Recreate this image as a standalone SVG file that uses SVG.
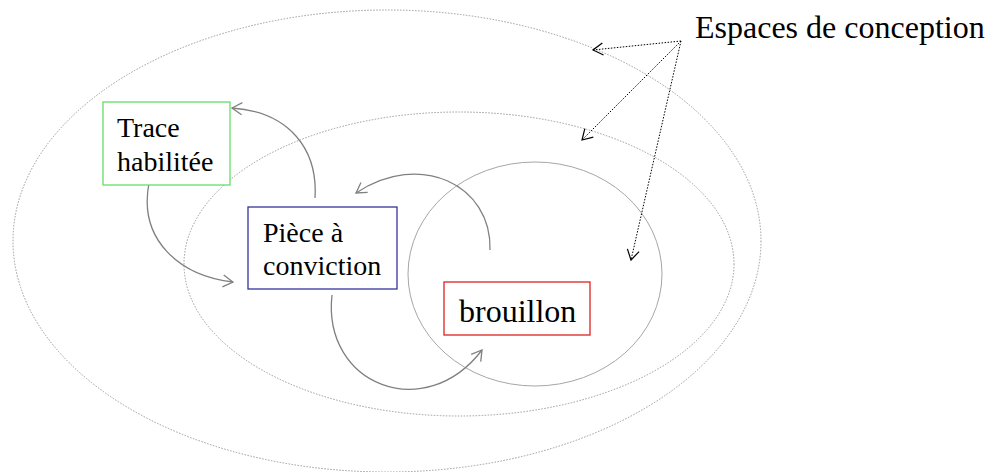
<svg xmlns="http://www.w3.org/2000/svg" width="988" height="472" viewBox="0 0 988 472">
<style>
.sp{fill:none;stroke:#9a9a9a;stroke-width:1;stroke-dasharray:1.5,1.5}
.in{fill:none;stroke:#a6a6a6;stroke-width:1}
.box{fill:#fff;stroke-width:1.3}
.t{font-family:"Liberation Serif","Times New Roman",serif;fill:#000}
.cur{fill:none;stroke:#808080;stroke-width:1.3}
.dot{fill:none;stroke:#000;stroke-width:1;stroke-dasharray:1.5,1.5}
</style>
<defs>
<marker id="ag" markerUnits="userSpaceOnUse" markerWidth="20" markerHeight="20" refX="0" refY="0" viewBox="-12 -10 14 20" orient="auto"><path d="M-10,-6 L0,0 L-10,6" fill="none" stroke="#808080" stroke-width="1.3"/></marker>
<marker id="ab" markerUnits="userSpaceOnUse" markerWidth="20" markerHeight="20" refX="0" refY="0" viewBox="-12 -10 14 20" orient="auto"><path d="M-10,-6 L0,0 L-10,6" fill="none" stroke="#000" stroke-width="1.2"/></marker>
</defs>
<g id="spaces">
<ellipse class="sp" cx="387" cy="241" rx="374" ry="231"/>
<ellipse class="sp" cx="459" cy="264" rx="275" ry="152"/>
<ellipse class="in" cx="535" cy="274" rx="127" ry="112"/>
</g>
<g id="connectors">
<path class="cur" d="M315,198 C318,150 290,112 232,108" marker-end="url(#ag)"/>
<path class="cur" d="M149,183 C138,240 180,276 233,282" marker-end="url(#ag)"/>
<path class="cur" d="M490,250 C492,185 420,150 356,193" marker-end="url(#ag)"/>
<path class="cur" d="M332,295 C322,385 425,425 482,350" marker-end="url(#ag)"/>
<path class="dot" d="M681,41 L593,50" marker-end="url(#ab)"/>
<path class="dot" d="M681,41 L582,140" marker-end="url(#ab)"/>
<path class="dot" d="M681,41 L631,260" marker-end="url(#ab)"/>
</g>
<g id="trace">
<rect class="box" x="103" y="102" width="127" height="83" stroke="#66dd66"/>
<text class="t" x="117" y="137" font-size="28">Trace</text>
<text class="t" x="117" y="171" font-size="28">habilitée</text>
</g>
<g id="piece">
<rect class="box" x="248" y="207" width="149" height="82" stroke="#333399"/>
<text class="t" x="263" y="242" font-size="28">Pièce à</text>
<text class="t" x="263" y="275" font-size="28">conviction</text>
</g>
<g id="brouillon">
<rect class="box" x="444" y="282" width="146" height="53" stroke="#dd2222"/>
<text class="t" x="459" y="322" font-size="32">brouillon</text>
</g>
<g id="label">
<text class="t" x="695" y="38" font-size="32">Espaces de conception</text>
</g>
</svg>
